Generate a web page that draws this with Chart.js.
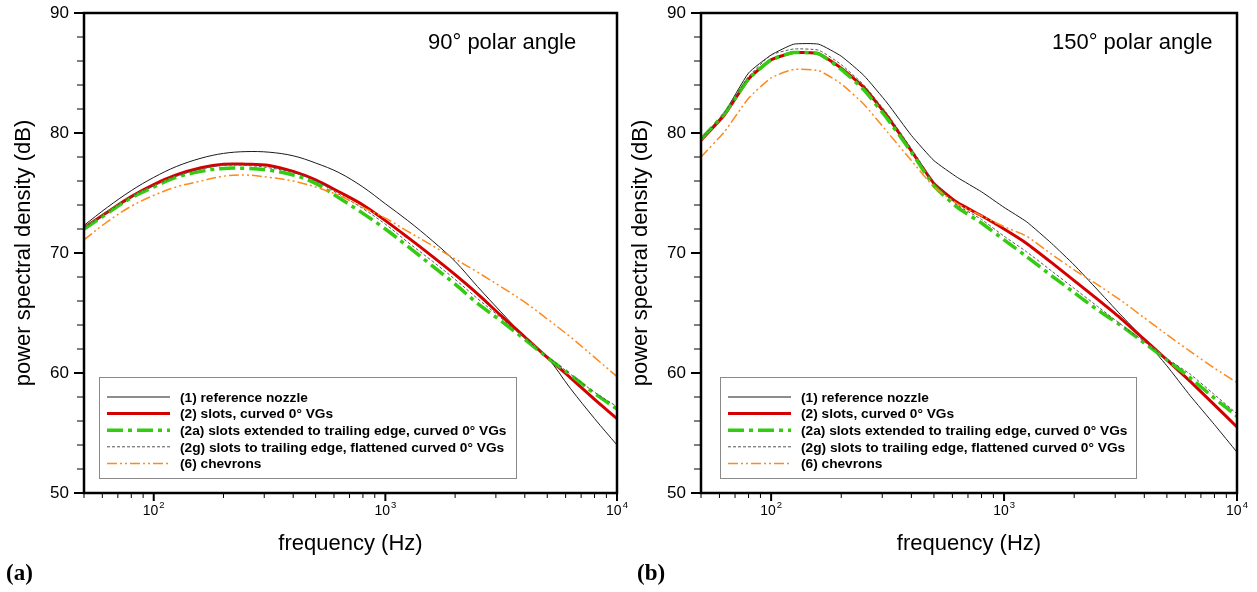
<!DOCTYPE html>
<html>
<head>
<meta charset="utf-8">
<script src="https://cdn.jsdelivr.net/npm/chart.js@4.4.0/dist/chart.umd.min.js"></script>
<style>
  body { margin: 0; background: #fff; }
  #page { position: relative; width: 1257px; height: 592px; overflow: hidden; }
  .panel { position: absolute; top: 0; height: 592px; }
  #panelA { left: 0; width: 628px; }
  #panelB { left: 617px; width: 640px; }
  .tag { position: absolute; top: 560px; font: bold 23px "Liberation Serif", serif; color: #000; }
</style>
</head>
<body>
<div id="page">
  <div class="panel" id="panelA"><canvas id="chartA"></canvas></div>
  <div class="panel" id="panelB"><canvas id="chartB"></canvas></div>
  <div class="tag" style="left:6px">(a)</div>
  <div class="tag" style="left:637px">(b)</div>
</div>
<script>
// 1/3-octave band centre frequencies (Hz)
const freqs = [50, 63, 80, 100, 125, 160, 200, 250, 315, 400, 500, 630, 800, 1000, 1250, 1600, 2000, 2500, 3150, 4000, 5000, 6300, 8000, 10000];

// tick values
const xTickValues = [50, 60, 70, 80, 90, 100, 200, 300, 400, 500, 600, 700, 800, 900, 1000, 2000, 3000, 4000, 5000, 6000, 7000, 8000, 9000, 10000];
const xMajorTicks = [100, 1000, 10000];
const xMajorExp = ['2', '3', '4'];
const yTickStep = 2;
const yLabelStep = 10;

const seriesNames = [
  '(1) reference nozzle',
  '(2) slots, curved 0\u00b0 VGs',
  '(2a) slots extended to trailing edge, curved 0\u00b0 VGs',
  '(2g) slots to trailing edge, flattened curved 0\u00b0 VGs',
  '(6) chevrons'
];

// 90 deg polar angle (dB)
const ref90   = [72.3, 73.8, 75.2, 76.3, 77.2, 77.9, 78.3, 78.45, 78.4, 78.1, 77.5, 76.7, 75.5, 74.1, 72.7, 71.0, 69.3, 67.2, 65.1, 63.0, 61.3, 58.7, 56.2, 54.0];
const slots90 = [72.1, 73.4, 74.7, 75.7, 76.5, 77.1, 77.4, 77.4, 77.3, 76.8, 76.1, 75.1, 74.0, 72.7, 71.3, 69.7, 68.2, 66.6, 64.8, 63.0, 61.3, 59.6, 57.8, 56.2];
const ext90   = [72.0, 73.3, 74.6, 75.5, 76.3, 76.8, 77.05, 77.05, 76.9, 76.5, 75.8, 74.6, 73.3, 72.0, 70.55, 68.9, 67.4, 65.8, 64.35, 62.8, 61.3, 59.85, 58.3, 57.0];
const flat90  = [72.1, 73.4, 74.7, 75.6, 76.4, 77.0, 77.3, 77.3, 77.1, 76.7, 76.0, 74.9, 73.7, 72.4, 70.9, 69.3, 67.8, 66.2, 64.6, 62.9, 61.4, 59.9, 58.4, 57.2];
const chev90  = [71.1, 72.6, 73.9, 74.8, 75.5, 76.0, 76.4, 76.5, 76.3, 76.0, 75.5, 74.8, 73.8, 72.9, 71.8, 70.6, 69.5, 68.4, 67.2, 65.9, 64.5, 63.0, 61.3, 59.7];

// 150 deg polar angle (dB)
const ref150   = [79.5, 81.7, 85.0, 86.5, 87.4, 87.4, 86.4, 84.8, 82.5, 79.8, 77.7, 76.3, 75.1, 73.8, 72.6, 70.8, 69.0, 67.0, 64.9, 62.8, 60.6, 58.1, 55.7, 53.4];
const slots150 = [79.4, 81.5, 84.5, 86.1, 86.7, 86.6, 85.4, 83.8, 81.4, 78.5, 75.8, 74.2, 73.1, 72.0, 70.8, 69.2, 67.7, 66.2, 64.6, 62.8, 61.1, 59.3, 57.35, 55.5];
const ext150   = [79.5, 81.6, 84.5, 86.1, 86.7, 86.6, 85.3, 83.6, 81.2, 78.4, 75.6, 73.8, 72.5, 71.1, 69.7, 68.1, 66.7, 65.3, 64.0, 62.5, 61.1, 59.6, 57.9, 56.4];
const flat150  = [79.5, 81.7, 84.7, 86.5, 87.0, 86.9, 85.7, 84.0, 81.6, 78.7, 75.9, 74.0, 72.8, 71.4, 70.1, 68.5, 67.05, 65.6, 64.1, 62.6, 61.2, 59.9, 58.2, 56.6];
const chev150  = [78.0, 80.1, 82.9, 84.6, 85.3, 85.2, 84.1, 82.4, 80.1, 77.7, 75.5, 74.1, 73.1, 72.2, 71.4, 69.9, 68.6, 67.4, 66.1, 64.6, 63.2, 61.8, 60.4, 59.2];

// line styles, same order as seriesNames
const lineStyles = [
  { color: '#1a1a1a', width: 1,   dash: [],                 order: 5 },
  { color: '#d40000', width: 3,   dash: [],                 order: 4 },
  { color: '#33cc11', width: 3.5, dash: [16, 5, 4, 5],      order: 3 },
  { color: '#555555', width: 1,   dash: [3, 2],             order: 2 },
  { color: '#ff8a1c', width: 1.5, dash: [10, 3, 2, 3, 2, 3], order: 1 }
];

const FONT = '"Liberation Sans", Arial, sans-serif';
const toPoints = vals => vals.map((v, i) => ({ x: freqs[i], y: v }));

// frame, ticks, tick labels, legend and angle label
const panelDecor = {
  id: 'panelDecor',
  afterDraw(chart, args, opts) {
    const { ctx, chartArea: a, scales: { x, y } } = chart;
    const line = (x1, y1, x2, y2) => { ctx.beginPath(); ctx.moveTo(x1, y1); ctx.lineTo(x2, y2); ctx.stroke(); };
    ctx.save();
    ctx.strokeStyle = '#000';
    ctx.fillStyle = '#000';
    ctx.setLineDash([]);

    // y ticks and labels
    ctx.font = '17px ' + FONT;
    ctx.textAlign = 'right';
    ctx.textBaseline = 'middle';
    y.ticks.forEach(t => {
      const py = y.getPixelForValue(t.value);
      const major = t.value % yLabelStep === 0;
      ctx.lineWidth = major ? 2 : 1;
      line(a.left - (major ? 10 : 7), py, a.left, py);
      if (major) ctx.fillText(String(t.value), a.left - 15, py + 0.5);
    });
    // x ticks
    xTickValues.forEach(v => {
      const px = x.getPixelForValue(v);
      const major = xMajorTicks.includes(v);
      ctx.lineWidth = major ? 2 : 1;
      line(px, a.bottom, px, a.bottom + (major ? 8 : 5));
    });
    // x tick labels 10^n
    ctx.textBaseline = 'alphabetic';
    ctx.textAlign = 'left';
    xMajorTicks.forEach((v, i) => {
      const px = x.getPixelForValue(v);
      ctx.font = '14px ' + FONT;
      const wBase = ctx.measureText('10').width;
      ctx.font = '9.5px ' + FONT;
      const wExp = ctx.measureText(xMajorExp[i]).width;
      const x0 = px - (wBase + wExp + 1) / 2;
      ctx.font = '14px ' + FONT;
      ctx.fillText('10', x0, a.bottom + 22);
      ctx.font = '9.5px ' + FONT;
      ctx.fillText(xMajorExp[i], x0 + wBase + 1, a.bottom + 15);
    });

    // frame
    ctx.lineWidth = 2.5;
    ctx.strokeRect(a.left, a.top, a.right - a.left, a.bottom - a.top);

    // angle label
    ctx.font = '22px ' + FONT;
    ctx.fillText(opts.label, a.left + opts.labelDx, 48.5);

    // legend box
    const bx = a.left + opts.legendDx, by = a.top + 364, bw = opts.legendW, bh = 101;
    ctx.fillStyle = '#fff';
    ctx.fillRect(bx, by, bw, bh);
    ctx.strokeStyle = '#8a8a8a';
    ctx.lineWidth = 1;
    ctx.strokeRect(bx + 0.5, by + 0.5, bw, bh);
    ctx.font = 'bold 13.7px ' + FONT;
    ctx.textBaseline = 'middle';
    seriesNames.forEach((name, i) => {
      const st = lineStyles[i];
      const ry = by + 20 + i * 16.6;
      ctx.strokeStyle = st.color;
      ctx.lineWidth = st.width;
      ctx.setLineDash(st.dash);
      line(bx + 8, ry, bx + 71, ry);
      ctx.setLineDash([]);
      ctx.fillStyle = '#000';
      ctx.fillText(name, bx + 81, ry + 1);
    });
    ctx.restore();
  }
};

function makeChart(canvasId, width, padRight, seriesVals, decor) {
  const canvas = document.getElementById(canvasId);
  canvas.width = width;
  canvas.height = 592;
  canvas.style.width = width + 'px';
  canvas.style.height = '592px';

  return new Chart(canvas.getContext('2d'), {
    type: 'line',
    data: {
      datasets: seriesVals.map((vals, i) => ({
        label: seriesNames[i],
        data: toPoints(vals),
        borderColor: lineStyles[i].color,
        borderWidth: lineStyles[i].width,
        borderDash: lineStyles[i].dash,
        order: lineStyles[i].order,
        pointRadius: 0,
        fill: false,
        tension: decor.tension
      }))
    },
    options: {
      responsive: false,
      animation: false,
      layout: { padding: { top: 13, right: padRight, bottom: 0, left: 0 } },
      plugins: {
        legend: { display: false },
        tooltip: { enabled: false },
        panelDecor: decor
      },
      scales: {
        x: {
          type: 'logarithmic',
          min: 50,
          max: 10000,
          grid: { display: false, drawTicks: false },
          border: { display: false },
          ticks: { display: false },
          title: {
            display: true,
            text: 'frequency (Hz)',
            color: '#000',
            font: { family: FONT, size: 22 },
            padding: { top: 0, bottom: 35 }
          },
          afterFit: scale => { scale.height = 99; }
        },
        y: {
          min: 50,
          max: 90,
          grid: { display: false, drawTicks: false },
          border: { display: false },
          ticks: { stepSize: yTickStep, display: false },
          title: {
            display: true,
            text: 'power spectral density (dB)',
            color: '#000',
            font: { family: FONT, size: 22 },
            padding: { top: 11, bottom: 0 }
          },
          afterFit: scale => { scale.width = 84; }
        }
      }
    },
    plugins: [panelDecor]
  });
}

makeChart('chartA', 628, 11, [ref90, slots90, ext90, flat90, chev90],
  { label: '90\u00b0 polar angle', labelDx: 344, legendDx: 15, legendW: 417, tension: 0.35 });
makeChart('chartB', 640, 20, [ref150, slots150, ext150, flat150, chev150],
  { label: '150\u00b0 polar angle', labelDx: 351, legendDx: 19, legendW: 416, tension: 0.15 });
</script>
</body>
</html>
